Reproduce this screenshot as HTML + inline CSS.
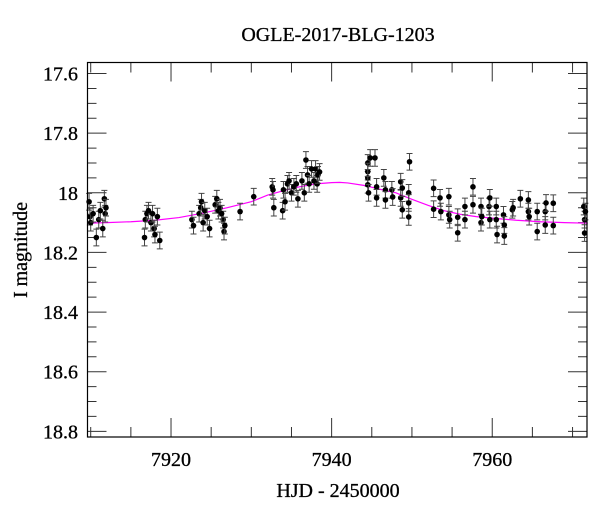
<!DOCTYPE html>
<html><head><meta charset="utf-8"><style>
body{margin:0;background:#fff;}
svg text{font-family:"Liberation Serif",serif;fill:#000;}
</style></head><body>
<svg id="chart" width="600" height="512" viewBox="0 0 600 512" xmlns="http://www.w3.org/2000/svg">
<rect x="0" y="0" width="600" height="512" fill="#fff"/>
<text x="338" y="41" font-size="20" text-anchor="middle" stroke="#000" stroke-width="0.3">OGLE-2017-BLG-1203</text>
<text transform="translate(27,250) rotate(-90)" font-size="20" text-anchor="middle" stroke="#000" stroke-width="0.3">I magnitude</text>
<text x="338" y="497" font-size="20" text-anchor="middle" stroke="#000" stroke-width="0.3">HJD - 2450000</text>
<g id="ticks"></g>
<g id="model"></g>
<g id="points"></g>
<rect x="87.5" y="62.5" width="499.5" height="374.5" fill="none" stroke="#000" stroke-width="1.2"/>
</svg>
<script>
const obsDays = [7909.8,7909.9,7910.0,7910.3,7910.7,7911.0,7911.2,7911.5,7911.7,7911.8,7911.9,
7916.7,7916.8,7917.0,7917.2,7917.5,7917.7,7917.9,7918.0,7918.3,7918.6,
7922.6,7922.8,7923.5,7923.7,7923.8,7924.0,7924.2,7924.5,7924.8,7925.5,7925.7,7925.9,7926.1,7926.5,7926.6,7926.7,7926.3,7928.6,7930.3,
7932.6,7932.7,7932.8,7933.9,7934.0,7934.2,7934.5,7934.7,7935.0,7935.3,7935.6,7935.8,7936.3,7936.6,7936.8,7937.0,7937.2,7937.5,7937.8,7938.0,7938.2,7938.3,7938.5,
7944.5,7944.8,7945.4,7944.5,7944.5,7944.5,7944.6,7945.6,7945.6,7946.5,7946.7,7946.7,7947.5,7947.6,7948.6,7948.6,7948.8,7948.8,7949.7,7949.6,7949.6,7949.6,
7952.7,7952.7,7953.5,7953.6,7954.6,7954.6,7954.7,7955.7,7955.7,7956.6,7956.6,7957.6,7957.6,7958.6,7958.6,7958.7,7959.6,7959.7,7959.7,7960.5,7960.5,7960.6,7961.4,7961.5,7961.5,7962.5,7962.6,
7963.5,7964.5,7964.5,7964.6,7965.6,7965.6,7966.6,7966.6,7966.7,7967.6,7967.6,
7971.4,7971.5,7971.5,7971.6];
const obsMags = [18.03,18.08,18.10,18.07,18.15,18.09,18.06,18.12,18.02,18.07,18.05,
18.15,18.09,18.07,18.06,18.10,18.07,18.12,18.14,18.08,18.16,
18.09,18.11,18.07,18.05,18.03,18.10,18.06,18.08,18.12,18.04,18.02,18.06,18.05,18.09,18.13,18.11,18.07,18.063,18.013,
17.98,17.99,18.05,18.06,17.99,18.03,17.97,17.96,18.00,17.98,17.97,18.02,17.96,18.00,17.89,17.94,17.97,17.92,17.96,17.92,17.97,17.94,17.93,
17.90,17.883,17.883,17.929,17.95,17.973,18.00,17.98,18.017,17.95,17.99,18.024,17.99,18.014,17.963,18.017,18.057,17.984,17.896,18.0,18.034,18.081,
17.985,18.055,18.017,18.063,18.013,18.074,18.09,18.082,18.134,18.046,18.09,17.98,18.04,18.046,18.10,18.08,18.046,18.017,18.09,18.046,18.09,18.14,18.074,18.108,18.145,18.057,18.05,
18.02,18.024,18.063,18.08,18.063,18.13,18.063,18.108,18.034,18.035,18.11,
18.046,18.09,18.135,18.063];
const obsErr = 0.028;
const modelDays = [7909.6,7912,7915,7918,7921,7924,7927,7930,7932,7934,7936,7938,7940,7941,7942,7944,7946,7948,7950,7952,7954,7956,7958,7960,7963,7966,7969,7971.9];
const modelMags = [18.102,18.100,18.097,18.092,18.083,18.068,18.050,18.030,18.008,17.993,17.980,17.970,17.966,17.965,17.967,17.975,17.988,18.000,18.022,18.042,18.060,18.072,18.080,18.085,18.092,18.097,18.100,18.102];
const yMajorTicks = [17.6,17.8,18,18.2,18.4,18.6,18.8];
const yTickLabels = ["17.6","17.8","18","18.2","18.4","18.6","18.8"];
const xMajorTicks = [7920,7940,7960];
const xTickLabels = ["7920","7940","7960"];

const X0=87.5,X1=587,Y0=62.5,Y1=437;
const dMin=7909.6,dMax=7971.8,mMin=17.563,mMax=18.819;
const xs=d=>X0+(d-dMin)/(dMax-dMin)*(X1-X0);
const ys=m=>Y0+(m-mMin)/(mMax-mMin)*(Y1-Y0);
const NS="http://www.w3.org/2000/svg";
function mk(tag,attrs,parent){const e=document.createElementNS(NS,tag);for(const k in attrs)e.setAttribute(k,attrs[k]);parent.appendChild(e);return e;}
const tg=document.getElementById('ticks');
for(let m=17.6;m<=18.8001;m+=0.05){
  const maj=Math.abs(Math.round(m*5)-m*5)<1e-6;
  const L=maj?19:9,y=ys(m);
  const t=mk('path',{d:`M${X0},${y}h${L}M${X1},${y}h${-L}`,stroke:'#333','stroke-width':1},tg);
  
  
}
yMajorTicks.forEach((m,i)=>{
  const t=mk('text',{x:78,y:ys(m)+7,'font-size':20,'text-anchor':'end',stroke:'#000','stroke-width':0.3},tg);
  t.textContent=yTickLabels[i];
  
  
});
for(let d=7910;d<=7971;d+=5){
  const maj=d%20===0;const L=maj?19:10,x=xs(d);
  const t=mk('path',{d:`M${x},${Y1}v${-L}M${x},${Y0}v${L}`,stroke:'#333','stroke-width':1},tg);
  
  
}
xMajorTicks.forEach((d,i)=>{
  const t=mk('text',{x:xs(d),y:466,'font-size':20,'text-anchor':'middle',stroke:'#000','stroke-width':0.3},tg);
  t.textContent=xTickLabels[i];
  
  
});
const mg=document.getElementById('model');
const pts=modelDays.map((d,i)=>xs(d).toFixed(2)+','+ys(modelMags[i]).toFixed(2)).join(' ');
const ml=mk('polyline',{points:pts,fill:'none',stroke:'#ff00ff','stroke-width':1.2},mg);


const pg=document.getElementById('points');
obsDays.forEach((d,i)=>{
  const x=xs(d),y=ys(obsMags[i]),e=ys(obsMags[i]+obsErr)-y;
  const g=mk('g',{},pg);
  
  
  mk('path',{d:`M${x},${y-e}V${y+e}M${x-3},${y-e}h6M${x-3},${y+e}h6`,stroke:'#444','stroke-width':1},g);
  mk('circle',{cx:x,cy:y,r:2.8,fill:'#000'},g);
});
</script>
</body></html>
